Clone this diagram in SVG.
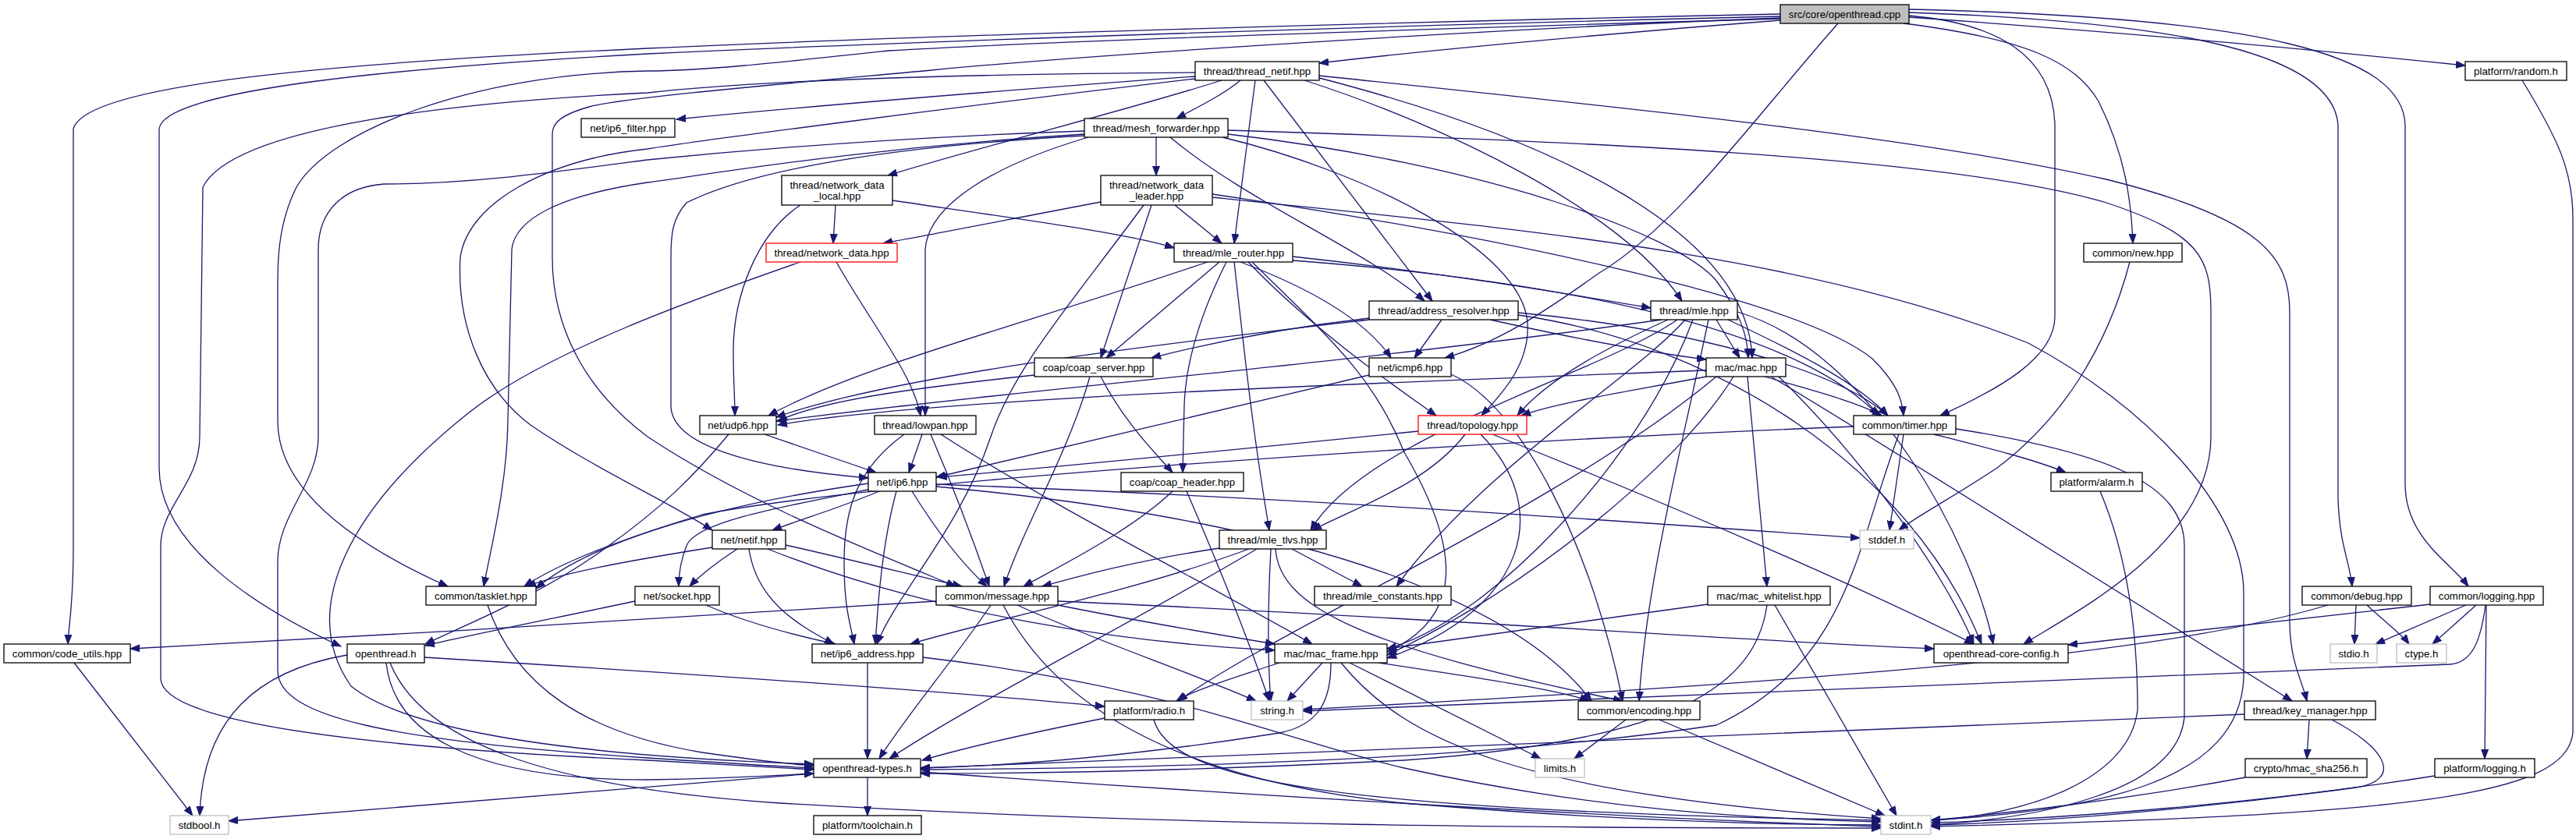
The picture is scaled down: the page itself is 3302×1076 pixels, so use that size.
<svg xmlns="http://www.w3.org/2000/svg" width="3302" height="1076" viewBox="0 0 3302 1076">
<style>
.n rect{fill:#fff;stroke:#000;stroke-width:1.3}
.n.g rect{stroke:#bfbfbf}
.n.r rect{stroke:#f00}
.n.root rect{fill:#bfbfbf}
text{font-family:"Liberation Sans",Arial,Helvetica,sans-serif;font-size:13.3px;text-anchor:middle;fill:#000}
#edges path{fill:none;stroke:#191970;stroke-width:1.3;marker-end:url(#a)}
</style>
<defs>
<marker id="a" markerWidth="14" markerHeight="10" refX="12" refY="5" orient="auto" markerUnits="userSpaceOnUse"><path d="M0,0.5 L12,5 L0,9.5 z" fill="#191970" stroke="#191970" stroke-width="1"/></marker>
</defs>
<rect width="3302" height="1076" fill="#fff"/>
<g id="edges">
<path d="M2282,26 C2100,40 1850,62 1691,81"/>
<path d="M2447,22 C2700,40 2950,62 3160,84"/>
<path d="M2440,30 C2600,50 2660,80 2690,130 C2725,200 2732,260 2734,312"/>
<path d="M2447,20 C2560,30 2630,70 2634,158 L2634,406 C2634,460 2560,500 2487,533"/>
<path d="M2447,16 C2800,28 2990,70 2997,160 L2997,640 C2999,700 3012,720 3015,752"/>
<path d="M2447,12 C2900,22 3080,70 3083,160 L3083,620 C3083,690 3140,720 3164,752"/>
<path d="M2356,30 C2250,150 2150,290 2050,350 C1980,400 1920,440 1852,459"/>
<path d="M2282,18 C1800,28 1200,45 830,62 C400,82 110,110 94,165 L94,700 C94,780 88,800 87,826"/>
<path d="M2282,21 C1800,32 1200,52 830,69 C450,90 210,120 204,165 L204,600 C204,700 330,780 437,829"/>
<path d="M2282,24 C1900,35 1400,50 1139,65 C1000,80 900,91 830,91 C600,95 420,170 380,240 C360,280 356,320 356,360 L356,540 C356,640 480,710 574,752"/>
<path d="M2282,23 C1900,38 1400,70 1194,90 C1000,108 800,125 755,137 C720,147 708,157 708,172 L708,330 C708,420 750,500 830,560 C950,640 1100,700 1225,752"/>
<path d="M1532,98 C1300,115 1050,135 867,153"/>
<path d="M1590,103 C1570,120 1540,135 1508,152"/>
<path d="M1566,103 C1450,140 1250,190 1138,225"/>
<path d="M1609,103 L1582,312"/>
<path d="M1620,103 L1836,386"/>
<path d="M1672,103 C1850,160 2080,270 2156,386"/>
<path d="M1691,100 C2000,180 2240,300 2246,459"/>
<path d="M1691,97 C2100,140 2460,176 2700,230 C2900,280 2935,330 2935,400 L2935,800 C2936,850 2950,870 2957,899"/>
<path d="M1532,101 C1200,140 900,180 830,191 C700,205 600,260 590,330 C585,420 620,500 680,545 C760,600 860,645 913,680"/>
<path d="M1532,93 C1200,95 950,105 830,119 C600,130 300,160 260,240 L256,560 C256,620 206,650 206,700 L206,870 C206,930 500,960 830,975 C950,982 1000,985 1043,987"/>
<path d="M1390,172 C1100,190 900,225 830,234 C720,250 660,280 656,320 L651,540 C650,620 630,700 620,752"/>
<path d="M1482,176 L1482,225"/>
<path d="M1395,176 C1280,210 1190,260 1186,320 L1186,533"/>
<path d="M1500,176 C1600,260 1750,320 1826,386"/>
<path d="M1574,167 C2000,180 2500,200 2700,260 C2820,300 2834,330 2834,400 L2834,560 C2834,700 2650,790 2594,826"/>
<path d="M1574,172 C1900,210 2150,300 2200,360 C2230,400 2240,430 2241,459"/>
<path d="M1567,176 C1750,220 1950,320 1958,413 C1962,470 1920,510 1899,533"/>
<path d="M1390,168 C1100,178 900,198 830,205 C700,222 600,236 492,236 C440,240 408,270 408,320 L408,560 C408,620 356,660 356,720 L356,860 C356,920 500,950 830,972 C950,980 1000,983 1043,985"/>
<path d="M1390,174 C1100,190 950,225 880,260 C862,280 860,300 860,330 L860,520 C860,570 960,600 1113,613"/>
<path d="M1071,263 L1068,312"/>
<path d="M1144,257 C1300,280 1450,300 1505,318"/>
<path d="M1026,263 C970,300 940,380 940,450 C940,490 942,510 942,533"/>
<path d="M1411,259 C1300,280 1200,300 1132,312"/>
<path d="M1506,263 L1566,312"/>
<path d="M1476,263 L1411,459"/>
<path d="M1466,263 C1380,380 1300,470 1270,560 C1230,680 1150,760 1124,826"/>
<path d="M1554,249 C1900,300 2300,380 2400,460 C2430,490 2438,510 2440,533"/>
<path d="M1554,253 C1900,290 2300,320 2600,440 C2750,520 2876,650 2876,760 L2876,870 C2870,1000 2700,1045 2411,1055"/>
<path d="M1072,336 C1120,420 1170,480 1180,533"/>
<path d="M1026,336 C900,380 700,450 600,530 C450,650 380,780 450,880 C550,960 900,975 1043,980"/>
<path d="M1548,336 C1300,420 1100,470 985,533"/>
<path d="M1563,336 L1418,459"/>
<path d="M1572,336 C1540,400 1520,460 1518,520 L1516,606"/>
<path d="M1582,336 C1595,450 1605,550 1627,680"/>
<path d="M1590,336 C1680,370 1750,410 1783,459"/>
<path d="M1600,336 C1680,420 1780,490 1841,533"/>
<path d="M1605,336 C1700,430 1760,480 1800,580 C1870,700 1880,790 1778,836"/>
<path d="M1657,329 C1850,350 2000,375 2116,395"/>
<path d="M1657,334 C2000,360 2300,420 2408,533"/>
<path d="M2730,336 C2700,450 2640,540 2560,600 C2500,640 2460,660 2434,680"/>
<path d="M1755,408 C1650,420 1550,440 1476,459"/>
<path d="M1755,410 C1500,440 1150,480 995,535"/>
<path d="M1848,410 L1813,459"/>
<path d="M1910,410 C2000,430 2100,450 2187,461"/>
<path d="M1946,401 C2150,420 2350,470 2420,533"/>
<path d="M1946,404 C2200,440 2450,600 2540,826"/>
<path d="M2200,410 L2230,459"/>
<path d="M2138,410 C2050,450 1980,490 1945,533"/>
<path d="M2215,410 C2300,450 2380,490 2420,533"/>
<path d="M2227,400 C2400,450 2530,700 2555,826"/>
<path d="M2130,410 C1700,470 1300,500 995,540"/>
<path d="M2150,410 C2050,480 1750,560 1680,680"/>
<path d="M2160,410 C2100,480 1900,600 1790,752"/>
<path d="M2190,410 C2150,600 2110,750 2101,899"/>
<path d="M2170,410 C2100,600 1900,800 1778,832"/>
<path d="M1326,481 C1150,500 1050,515 997,540"/>
<path d="M1411,483 C1440,540 1480,580 1503,606"/>
<path d="M1397,483 C1370,580 1310,680 1287,752"/>
<path d="M1755,481 C1500,540 1300,590 1200,612"/>
<path d="M1860,480 C1950,520 2040,700 2080,899"/>
<path d="M2187,475 C1800,490 1200,510 997,545"/>
<path d="M2187,483 C2100,500 2000,515 1950,533"/>
<path d="M2262,483 C2320,500 2380,515 2412,533"/>
<path d="M2240,483 L2265,752"/>
<path d="M2222,483 C2150,600 1950,760 1778,840"/>
<path d="M2200,483 C2000,650 1650,800 1510,899"/>
<path d="M2280,483 C2400,600 2500,750 2530,826"/>
<path d="M2270,483 C2400,560 2700,750 2938,899"/>
<path d="M980,557 L1123,606"/>
<path d="M934,557 C890,610 850,650 780,700 C700,760 600,800 545,826"/>
<path d="M1159,557 C1100,600 1082,650 1082,720 C1082,780 1090,800 1095,826"/>
<path d="M1182,557 L1165,606"/>
<path d="M1193,557 C1220,620 1250,700 1268,752"/>
<path d="M1206,557 C1350,650 1550,750 1682,826"/>
<path d="M1818,553 C1600,575 1400,595 1202,612"/>
<path d="M1878,557 C1830,620 1740,650 1682,680"/>
<path d="M1898,557 C1990,650 1960,780 1778,844"/>
<path d="M1913,557 C2150,650 2400,760 2530,826"/>
<path d="M2376,547 C1800,570 1100,620 900,660 C800,690 720,720 672,752"/>
<path d="M2440,557 L2422,680"/>
<path d="M2479,557 C2550,575 2610,590 2648,606"/>
<path d="M2434,557 C2380,700 2370,850 2200,930 C1900,975 1500,985 1180,987"/>
<path d="M2507,550 C2700,580 2800,620 2800,700 L2800,920 C2790,1020 2600,1050 2475,1058"/>
<path d="M1127,630 C1080,650 1030,665 990,680"/>
<path d="M1113,628 C1000,650 890,670 880,700 C872,720 870,740 870,752"/>
<path d="M1149,630 C1130,700 1125,780 1122,826"/>
<path d="M1169,630 C1200,680 1230,720 1265,752"/>
<path d="M1200,621 C1700,640 2100,670 2384,690"/>
<path d="M1200,624 C1700,670 1950,780 2040,899"/>
<path d="M1113,620 C900,650 750,700 687,755"/>
<path d="M1503,630 C1450,680 1370,720 1312,752"/>
<path d="M1521,630 C1560,720 1600,820 1627,899"/>
<path d="M2692,630 C2730,720 2740,820 2740,910 C2730,1000 2600,1045 2475,1052"/>
<path d="M913,702 C800,720 720,735 675,752"/>
<path d="M945,704 C920,720 895,740 884,752"/>
<path d="M960,704 C970,770 1020,800 1069,826"/>
<path d="M984,704 C1200,790 1450,825 1634,834"/>
<path d="M1007,699 C1100,720 1180,740 1233,752"/>
<path d="M1563,703 C1450,720 1380,740 1336,752"/>
<path d="M1601,704 C1450,760 1250,800 1167,826"/>
<path d="M1611,704 C1450,800 1250,900 1140,973"/>
<path d="M1629,704 C1625,780 1625,850 1629,899"/>
<path d="M1656,704 L1746,752"/>
<path d="M1635,704 C1640,780 1750,830 2080,899"/>
<path d="M1200,771 C900,790 500,815 167,832"/>
<path d="M1270,776 C1220,850 1160,920 1127,973"/>
<path d="M1286,776 C1350,900 1500,1000 1800,1030 C2100,1055 2300,1058 2411,1058"/>
<path d="M1304,776 C1400,820 1520,860 1610,899"/>
<path d="M1356,771 C1800,790 2200,820 2479,832"/>
<path d="M1356,776 C1450,795 1550,812 1634,826"/>
<path d="M905,776 C960,800 1020,815 1071,826"/>
<path d="M814,771 C700,795 600,815 545,828"/>
<path d="M2189,775 C2000,800 1850,822 1778,832"/>
<path d="M2265,776 C2250,880 2150,950 1800,975 C1500,990 1300,992 1180,992"/>
<path d="M2275,776 L2431,1046"/>
<path d="M2984,776 C2800,830 2500,865 1670,910"/>
<path d="M3020,776 L3018,826"/>
<path d="M3034,776 C3060,800 3080,815 3088,826"/>
<path d="M3115,775 C2900,800 2750,815 2651,827"/>
<path d="M3161,776 L3045,826"/>
<path d="M3174,776 L3118,826"/>
<path d="M3186,776 C3180,820 3170,850 3140,852 C2800,865 2200,890 1670,912"/>
<path d="M3187,776 L3185,973"/>
<path d="M95,850 L247,1046"/>
<path d="M445,840 C330,860 260,920 256,1046"/>
<path d="M495,850 C505,940 600,1000 830,1000 C950,998 1000,994 1043,992"/>
<path d="M544,843 C900,865 1200,885 1416,906"/>
<path d="M500,850 C540,950 700,1010 1000,1030 C1500,1060 2000,1062 2411,1062"/>
<path d="M1112,850 L1112,973"/>
<path d="M1183,843 C1500,880 1650,950 1800,985 C2050,1040 2250,1050 2411,1054"/>
<path d="M1640,850 C1580,870 1530,885 1508,899"/>
<path d="M1695,850 L1650,899"/>
<path d="M1706,850 C1706,900 1690,930 1640,940 C1450,970 1300,982 1180,985"/>
<path d="M1719,850 C1800,950 1950,1020 2411,1050"/>
<path d="M1730,850 L1975,973"/>
<path d="M1767,850 C1900,870 2000,885 2037,899"/>
<path d="M1416,921 C1320,940 1240,958 1182,975"/>
<path d="M1479,923 C1500,1000 1700,1040 2411,1052"/>
<path d="M2084,923 L2018,973"/>
<path d="M2127,923 L2416,1046"/>
<path d="M2877,916 C2400,935 1700,965 1180,985"/>
<path d="M2960,923 L2957,973"/>
<path d="M2989,923 C3060,960 3080,1000 3020,1010 C2800,1040 2600,1055 2475,1058"/>
<path d="M1112,997 L1112,1046"/>
<path d="M1043,992 C700,1020 450,1040 293,1053"/>
<path d="M1180,990 C1600,1020 2100,1050 2411,1060"/>
<path d="M2878,997 C2700,1030 2550,1045 2475,1052"/>
<path d="M3121,995 C2900,1030 2650,1050 2475,1055"/>
<path d="M3233,103 C3280,180 3298,220 3298,280 L3298,940 C3290,1020 3100,1045 2475,1060"/>
<path d="M625,776 C660,880 750,940 900,965 C970,975 1010,980 1043,982"/>
</g>
<g id="nodes">
<g id="n_root" class="n root"><rect x="2282" y="6" width="165" height="24"/><text x="2364.5" y="22.7">src/core/openthread.cpp</text></g>
<g id="n_thread_netif" class="n"><rect x="1532" y="79" width="159" height="24"/><text x="1611.5" y="95.7">thread/thread_netif.hpp</text></g>
<g id="n_random" class="n"><rect x="3160" y="79" width="130" height="24"/><text x="3225" y="95.7">platform/random.h</text></g>
<g id="n_ip6_filter" class="n"><rect x="745" y="152" width="120" height="24"/><text x="805" y="168.7">net/ip6_filter.hpp</text></g>
<g id="n_mesh_forwarder" class="n"><rect x="1390" y="152" width="184" height="24"/><text x="1482" y="168.7">thread/mesh_forwarder.hpp</text></g>
<g id="n_nd_local" class="n"><rect x="1002" y="225" width="142" height="38"/><text x="1073" y="242">thread/network_data</text><text x="1073" y="256">_local.hpp</text></g>
<g id="n_nd_leader" class="n"><rect x="1411" y="225" width="143" height="38"/><text x="1482.5" y="242">thread/network_data</text><text x="1482.5" y="256">_leader.hpp</text></g>
<g id="n_network_data" class="n r"><rect x="982" y="312" width="168" height="24"/><text x="1066" y="328.7">thread/network_data.hpp</text></g>
<g id="n_mle_router" class="n"><rect x="1505" y="312" width="152" height="24"/><text x="1581" y="328.7">thread/mle_router.hpp</text></g>
<g id="n_new" class="n"><rect x="2671" y="312" width="126" height="24"/><text x="2734" y="328.7">common/new.hpp</text></g>
<g id="n_address_resolver" class="n"><rect x="1755" y="386" width="191" height="24"/><text x="1850.5" y="402.7">thread/address_resolver.hpp</text></g>
<g id="n_mle" class="n"><rect x="2116" y="386" width="111" height="24"/><text x="2171.5" y="402.7">thread/mle.hpp</text></g>
<g id="n_coap_server" class="n"><rect x="1326" y="459" width="152" height="24"/><text x="1402" y="475.7">coap/coap_server.hpp</text></g>
<g id="n_icmp6" class="n"><rect x="1755" y="459" width="105" height="24"/><text x="1807.5" y="475.7">net/icmp6.hpp</text></g>
<g id="n_mac" class="n"><rect x="2187" y="459" width="102" height="24"/><text x="2238" y="475.7">mac/mac.hpp</text></g>
<g id="n_udp6" class="n"><rect x="897" y="533" width="98" height="24"/><text x="946" y="549.7">net/udp6.hpp</text></g>
<g id="n_lowpan" class="n"><rect x="1121" y="533" width="130" height="24"/><text x="1186" y="549.7">thread/lowpan.hpp</text></g>
<g id="n_topology" class="n r"><rect x="1818" y="533" width="139" height="24"/><text x="1887.5" y="549.7">thread/topology.hpp</text></g>
<g id="n_timer" class="n"><rect x="2376" y="533" width="131" height="24"/><text x="2441.5" y="549.7">common/timer.hpp</text></g>
<g id="n_ip6" class="n"><rect x="1113" y="606" width="87" height="24"/><text x="1156.5" y="622.7">net/ip6.hpp</text></g>
<g id="n_coap_header" class="n"><rect x="1437" y="606" width="157" height="24"/><text x="1515.5" y="622.7">coap/coap_header.hpp</text></g>
<g id="n_alarm" class="n"><rect x="2629" y="606" width="117" height="24"/><text x="2687.5" y="622.7">platform/alarm.h</text></g>
<g id="n_netif" class="n"><rect x="913" y="680" width="94" height="24"/><text x="960" y="696.7">net/netif.hpp</text></g>
<g id="n_mle_tlvs" class="n"><rect x="1563" y="680" width="137" height="24"/><text x="1631.5" y="696.7">thread/mle_tlvs.hpp</text></g>
<g id="n_stddef" class="n g"><rect x="2384" y="680" width="69" height="24"/><text x="2418.5" y="696.7">stddef.h</text></g>
<g id="n_tasklet" class="n"><rect x="546" y="752" width="141" height="24"/><text x="616.5" y="768.7">common/tasklet.hpp</text></g>
<g id="n_socket" class="n"><rect x="814" y="752" width="108" height="24"/><text x="868" y="768.7">net/socket.hpp</text></g>
<g id="n_message" class="n"><rect x="1200" y="752" width="156" height="24"/><text x="1278" y="768.7">common/message.hpp</text></g>
<g id="n_mle_constants" class="n"><rect x="1685" y="752" width="175" height="24"/><text x="1772.5" y="768.7">thread/mle_constants.hpp</text></g>
<g id="n_mac_whitelist" class="n"><rect x="2189" y="752" width="157" height="24"/><text x="2267.5" y="768.7">mac/mac_whitelist.hpp</text></g>
<g id="n_debug" class="n"><rect x="2951" y="752" width="140" height="24"/><text x="3021" y="768.7">common/debug.hpp</text></g>
<g id="n_logging" class="n"><rect x="3115" y="752" width="145" height="24"/><text x="3187.5" y="768.7">common/logging.hpp</text></g>
<g id="n_code_utils" class="n"><rect x="5" y="826" width="162" height="24"/><text x="86" y="842.7">common/code_utils.hpp</text></g>
<g id="n_openthread_h" class="n"><rect x="445" y="826" width="99" height="24"/><text x="494.5" y="842.7">openthread.h</text></g>
<g id="n_ip6_address" class="n"><rect x="1041" y="826" width="142" height="24"/><text x="1112" y="842.7">net/ip6_address.hpp</text></g>
<g id="n_mac_frame" class="n"><rect x="1634" y="826" width="144" height="24"/><text x="1706" y="842.7">mac/mac_frame.hpp</text></g>
<g id="n_core_config" class="n"><rect x="2479" y="826" width="172" height="24"/><text x="2565" y="842.7">openthread-core-config.h</text></g>
<g id="n_stdio" class="n g"><rect x="2987" y="826" width="60" height="24"/><text x="3017" y="842.7">stdio.h</text></g>
<g id="n_ctype" class="n g"><rect x="3072" y="826" width="64" height="24"/><text x="3104" y="842.7">ctype.h</text></g>
<g id="n_radio" class="n"><rect x="1416" y="899" width="114" height="24"/><text x="1473" y="915.7">platform/radio.h</text></g>
<g id="n_string" class="n g"><rect x="1604" y="899" width="66" height="24"/><text x="1637" y="915.7">string.h</text></g>
<g id="n_encoding" class="n"><rect x="2023" y="899" width="156" height="24"/><text x="2101" y="915.7">common/encoding.hpp</text></g>
<g id="n_key_manager" class="n"><rect x="2877" y="899" width="168" height="24"/><text x="2961" y="915.7">thread/key_manager.hpp</text></g>
<g id="n_ot_types" class="n"><rect x="1043" y="973" width="137" height="24"/><text x="1111.5" y="989.7">openthread-types.h</text></g>
<g id="n_limits" class="n g"><rect x="1968" y="973" width="63" height="24"/><text x="1999.5" y="989.7">limits.h</text></g>
<g id="n_hmac" class="n"><rect x="2878" y="973" width="156" height="24"/><text x="2956" y="989.7">crypto/hmac_sha256.h</text></g>
<g id="n_plat_logging" class="n"><rect x="3121" y="973" width="128" height="24"/><text x="3185" y="989.7">platform/logging.h</text></g>
<g id="n_stdbool" class="n g"><rect x="218" y="1046" width="75" height="24"/><text x="255.5" y="1062.7">stdbool.h</text></g>
<g id="n_toolchain" class="n"><rect x="1043" y="1046" width="138" height="24"/><text x="1112" y="1062.7">platform/toolchain.h</text></g>
<g id="n_stdint" class="n g"><rect x="2411" y="1046" width="64" height="24"/><text x="2443" y="1062.7">stdint.h</text></g>
</g>
</svg>
